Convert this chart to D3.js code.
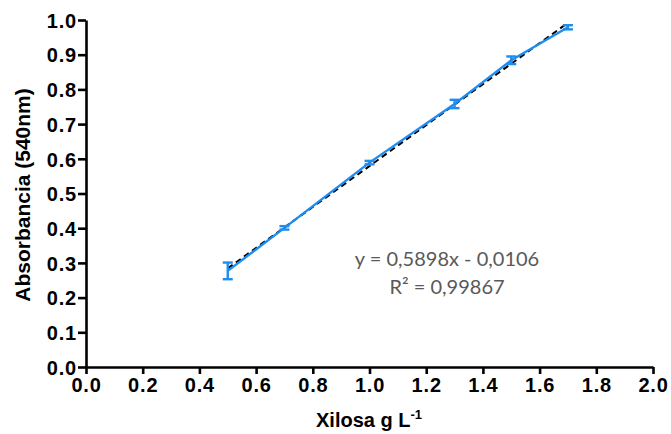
<!DOCTYPE html>
<html><head><meta charset="utf-8">
<script src="https://cdn.jsdelivr.net/npm/d3@7"></script>
<style>body{margin:0;background:#fff}svg{display:block}</style>
</head><body>
<script>
const xVals = [0.5, 0.7, 1.0, 1.3, 1.5, 1.7];
const yVals = [0.277, 0.401, 0.589, 0.758, 0.884, 0.979];
const yErr = [0.024, 0.005, 0.005, 0.012, 0.011, 0.006];
const xTicks = [0,0.2,0.4,0.6,0.8,1.0,1.2,1.4,1.6,1.8,2.0];
const yTicks = [0,0.1,0.2,0.3,0.4,0.5,0.6,0.7,0.8,0.9,1.0];
const slope = 0.5898, intercept = -0.0106;
const trendX = [0.5, 1.7];
const eqLines = ["y = 0,5898x - 0,0106", "R² = 0,99867"];

const W = 671, H = 434;
const svg = d3.select("body").append("svg").attr("width", W).attr("height", H);
const x = d3.scaleLinear().domain([0, 2]).range([86, 653]);
const y = d3.scaleLinear().domain([0, 1]).range([367, 20]);

const font = "'Liberation Sans', Arial, sans-serif";

// axes
const xAxis = svg.append("g").attr("transform", `translate(0,${y(0)})`)
  .call(d3.axisBottom(x).tickValues(xTicks).tickFormat(d3.format(".1f")).tickSize(7).tickSizeOuter(0).tickPadding(2));
const yAxis = svg.append("g").attr("transform", `translate(${x(0)},0)`)
  .call(d3.axisLeft(y).tickValues(yTicks).tickFormat(d3.format(".1f")).tickSize(8).tickSizeOuter(0).tickPadding(1));
[xAxis, yAxis].forEach(g => {
  g.select(".domain").attr("stroke", "#000").attr("stroke-width", 2.6);
  g.selectAll(".tick line").attr("stroke", "#000").attr("stroke-width", 2.6);
  g.selectAll(".tick text").attr("font-family", font).attr("font-weight", "bold")
    .attr("font-size", 20).attr("letter-spacing", "0.8px").attr("fill", "#000");
});
xAxis.selectAll(".tick text").attr("dy", "0.8em");
yAxis.selectAll(".tick text").attr("dy", "0.36em");

// trend line
const tl = d3.line().x(d => x(d)).y(d => y(slope * d + intercept));
svg.append("path").datum(trendX).attr("d", tl).attr("fill", "none")
  .attr("stroke", "#000").attr("stroke-width", 2).attr("stroke-dasharray", "6,4");

// data line
const pts = xVals.map((v, i) => [v, yVals[i], yErr[i]]);
svg.append("path").datum(pts)
  .attr("d", d3.line().x(d => x(d[0])).y(d => y(d[1])))
  .attr("fill", "none").attr("stroke", "#1e8cf0").attr("stroke-width", 2.4);

// error bars
const eb = svg.append("g").attr("stroke", "#1e8cf0").attr("stroke-width", 2.4);
pts.forEach(d => {
  const cx = x(d[0]);
  eb.append("line").attr("x1", cx).attr("x2", cx).attr("y1", y(d[1] - d[2])).attr("y2", y(d[1] + d[2]));
  [d[1] - d[2], d[1] + d[2]].forEach(v => {
    eb.append("line").attr("x1", cx - 5).attr("x2", cx + 5).attr("y1", y(v)).attr("y2", y(v));
  });
});

// equation text
svg.append("g").selectAll("text").data(eqLines).join("text")
  .attr("x", 447).attr("y", (d, i) => 266 + i * 28)
  .attr("text-anchor", "middle").attr("font-family", "Lato, 'Open Sans', sans-serif")
  .attr("font-size", 20).attr("fill", "#595959").text(d => d);

// axis titles
svg.append("text").attr("transform", `translate(30,195) rotate(-90)`)
  .attr("text-anchor", "middle").attr("font-family", font).attr("font-weight", "bold")
  .attr("font-size", 21).text("Absorbancia (540nm)");
const xt = svg.append("text").attr("x", 369).attr("y", 427)
  .attr("text-anchor", "middle").attr("font-family", font).attr("font-weight", "bold")
  .attr("font-size", 20);
xt.append("tspan").text("Xilosa g L");
xt.append("tspan").attr("dy", -8).attr("font-size", 13).text("-1");
</script>
</body></html>
